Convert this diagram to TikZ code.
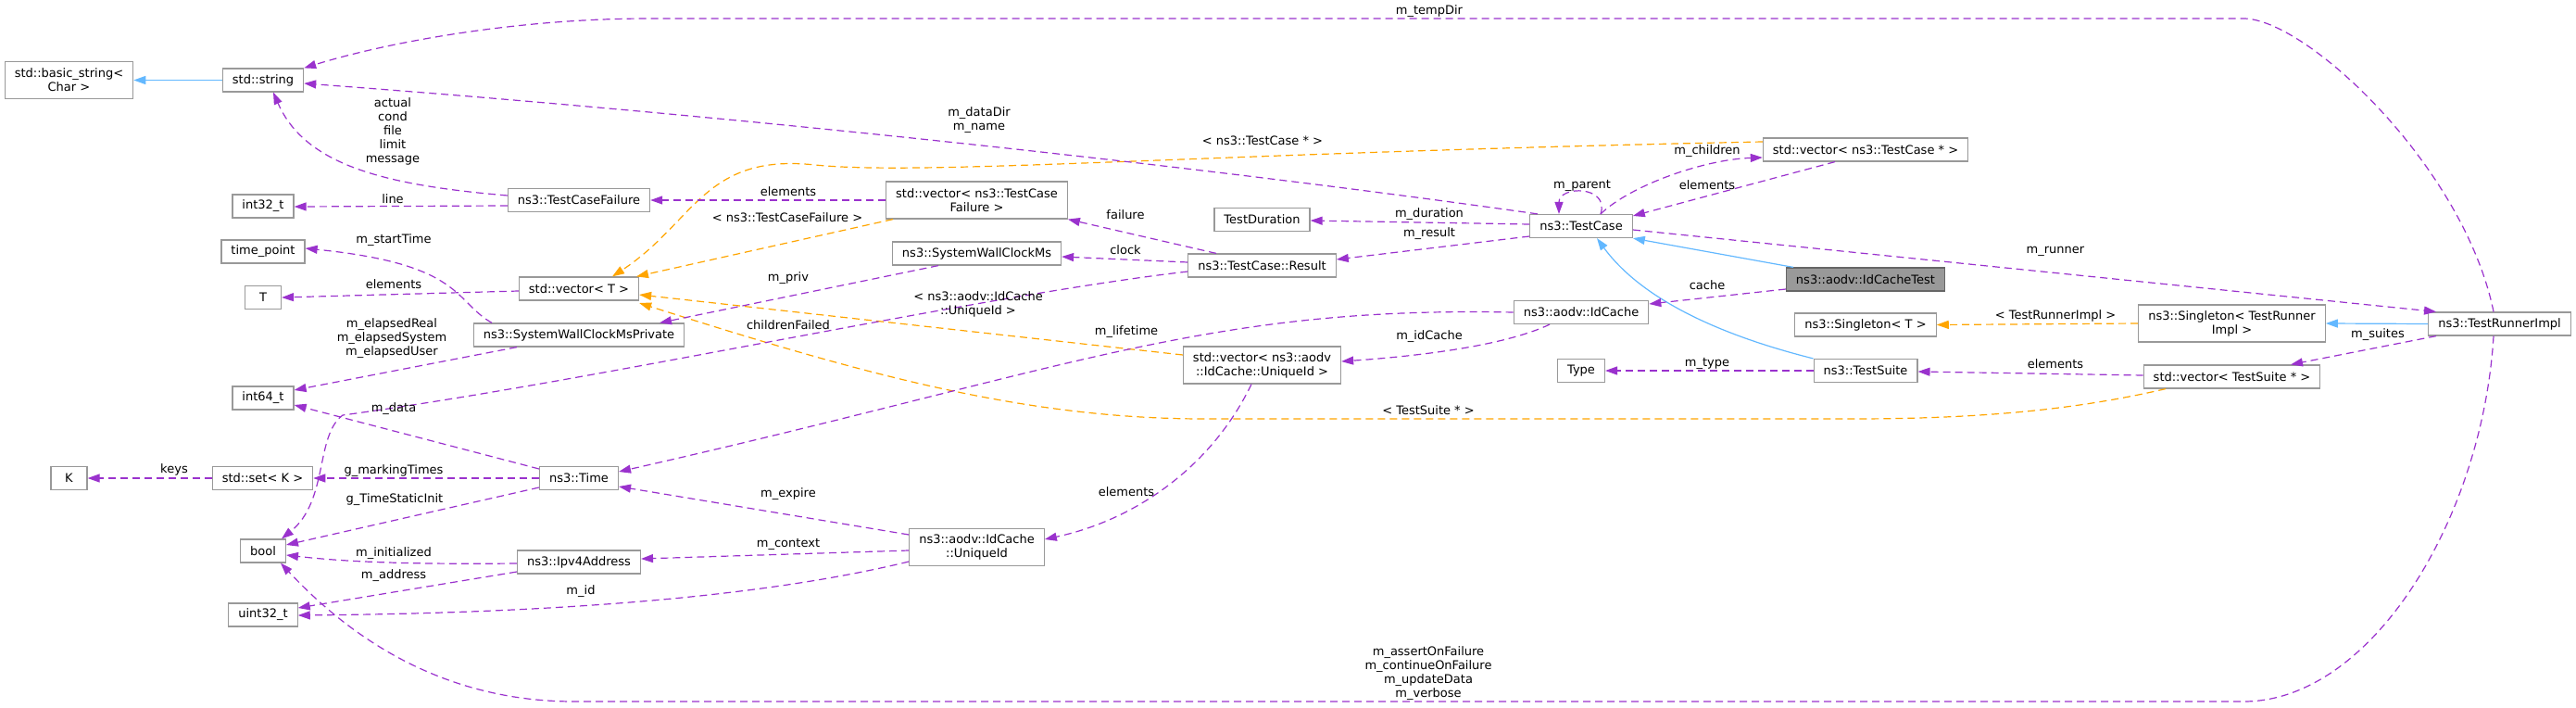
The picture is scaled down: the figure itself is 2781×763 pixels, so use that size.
\documentclass[tikz,border=0pt]{standalone}
\usepackage{fontspec}
\setmainfont{DejaVu Sans}
\usetikzlibrary{arrows.meta}
\definecolor{edgepurple}{HTML}{9A32CD}
\definecolor{tmplorange}{HTML}{FFA500}
\definecolor{inhblue}{HTML}{63B8FF}
\definecolor{boxgray}{HTML}{999999}
\definecolor{focusgray}{HTML}{999999}
\definecolor{focusborder}{HTML}{666666}
\tikzset{
  cls/.style={draw=boxgray, fill=white, line width=1.2pt, inner xsep=10.5pt, inner ysep=0pt,
    minimum height=25pt, minimum width=39pt, align=center, font=\fontsize{13}{15}\selectfont},
  twoline/.style={minimum height=40pt},
  focus/.style={fill=focusgray, draw=focusborder},
  lbl/.style={inner sep=0pt, align=center, font=\fontsize{13}{15}\selectfont},
  uses/.style={draw=edgepurple, line width=1.2pt, dash pattern=on 8pt off 5pt,
    -{Triangle[length=13pt,width=9pt]}},
  tmpl/.style={uses, draw=tmplorange},
  inherit/.style={draw=inhblue, line width=1.2pt, -{Triangle[length=13pt,width=9pt]}}
}
\begin{document}
\begin{tikzpicture}[x=1pt, y=-1pt]
	\useasboundingbox (0,0) rectangle (2781,763);
	% classes
	\node[cls, twoline] (basicstr) at (74.5,86.5) {std::basic\_string<\\Char >};
	\node[cls] (string) at (284,86.5) {std::string};
	\node[cls] (int32) at (284,222.5) {int32\_t};
	\node[cls] (timepoint) at (284,271.5) {time\_point};
	\node[cls] (T) at (284,321) {T};
	\node[cls] (int64) at (284,429.5) {int64\_t};
	\node[cls] (K) at (74.5,516) {K};
	\node[cls] (setK) at (283.5,516) {std::set< K >};
	\node[cls] (bool) at (284,594.5) {bool};
	\node[cls] (uint32) at (284,663.5) {uint32\_t};
	\node[cls] (tfail) at (625,216) {ns3::TestCaseFailure};
	\node[cls] (vecT) at (625,311.5) {std::vector< T >};
	\node[cls] (wallpriv) at (625,361.5) {ns3::SystemWallClockMsPrivate};
	\node[cls] (time) at (625,516) {ns3::Time};
	\node[cls] (ipv4) at (625,606.5) {ns3::Ipv4Address};
	\node[cls, twoline] (vecfail) at (1054.5,216) {std::vector< ns3::TestCase\\Failure >};
	\node[cls] (wallms) at (1054.5,273.5) {ns3::SystemWallClockMs};
	\node[cls, twoline] (uid) at (1054.5,590.5) {ns3::aodv::IdCache\\::UniqueId};
	\node[cls] (duration) at (1362.5,237) {TestDuration};
	\node[cls] (result) at (1362.5,286.5) {ns3::TestCase::Result};
	\node[cls, twoline] (vecuid) at (1362.5,394) {std::vector< ns3::aodv\\::IdCache::UniqueId >};
	\node[cls] (testcase) at (1707,244) {ns3::TestCase};
	\node[cls] (idcache) at (1707,337) {ns3::aodv::IdCache};
	\node[cls] (type) at (1707,400) {Type};
	\node[cls] (vectc) at (2014,161.5) {std::vector< ns3::TestCase * >};
	\node[cls, focus] (idtest) at (2014,301.5) {ns3::aodv::IdCacheTest};
	\node[cls] (singT) at (2014,350.5) {ns3::Singleton< T >};
	\node[cls] (suite) at (2014,400) {ns3::TestSuite};
	\node[cls, twoline] (singR) at (2409.5,349) {ns3::Singleton< TestRunner\\Impl >};
	\node[cls] (vecsuite) at (2409.5,406.5) {std::vector< TestSuite * >};
	\node[cls] (runner) at (2698.5,349.5) {ns3::TestRunnerImpl};

	% inheritance
	\draw[inherit] (string.west) -- (basicstr.east);
	\draw[inherit] (idtest.north -| 1936,0) -- (testcase.south east);
	\draw[inherit] (suite.north west) .. controls (1850,360) and (1770,320) .. (testcase.south -| 1724,0);
	\draw[inherit] (runner.west) -- (singR.east);

	% template instances
	\draw[tmpl] (vecfail.south -| 964,0) -- (vecT.north -| 687,0);
	\draw[tmpl] (vectc.west |- 0,153) .. controls (1300,165) and (1000,190) .. (880,178)
		.. controls (760,165) and (750,240) .. (vecT.north -| 661,0);
	\draw[tmpl] (vecuid.west |- 0,383) -- (vecT.east |- 0,318);
	\draw[tmpl] (vecsuite.south -| 2338,0) .. controls (2250,440) and (2150,452) .. (2000,452)
		-- (1300,452) .. controls (1100,452) and (920,400) .. (vecT.east |- 0,327);
	\draw[tmpl] (singR.west) -- (singT.east);

	% members
	\draw[uses] (runner.north -| 2692,0) .. controls (2660,180) and (2490,20) .. (2422,20)
		-- (700,20) .. controls (560,20) and (420,45) .. (string.north east);
	\draw[uses] (testcase.north -| 1660,0) .. controls (1300,180) and (800,125) .. (string.east |- 0,90);
	\draw[uses] (tfail.west |- 0,211) .. controls (420,200) and (330,180) .. (string.south -| 295,0);
	\draw[uses] (tfail.west |- 0,222) -- (int32.east |- 0,223);
	\draw[uses] (wallpriv.north -| 531,0) .. controls (490,325) and (500,285) .. (timepoint.east |- 0,268);
	\draw[uses] (vecT.west |- 0,314) -- (T.east |- 0,321);
	\draw[uses] (wallpriv.south -| 558,0) -- (int64.east |- 0,421);
	\draw[uses] (time.west |- 0,506) -- (int64.east |- 0,437);
	\draw[uses] (setK.west) -- (K.east);
	\draw[uses] (time.west) -- (setK.east);
	\draw[uses] (time.west |- 0,526) -- (bool.east |- 0,588);
	\draw[uses] (ipv4.west |- 0,608) .. controls (450,609) and (380,607) .. (bool.east |- 0,599);
	\draw[uses] (ipv4.west |- 0,617) -- (uint32.east |- 0,656);
	\draw[uses] (uid.west |- 0,606) .. controls (800,650) and (550,662) .. (uint32.east |- 0,664);
	\draw[uses] (runner.south -| 2692,0) .. controls (2680,560) and (2560,757) .. (2422,757)
		-- (620,757) .. controls (480,757) and (380,690) .. (bool.south -| 303,0);
	\draw[uses] (result.west |- 0,293) .. controls (1050,320) and (650,410) .. (370,448)
		.. controls (340,470) and (355,540) .. (bool.north -| 304,0);
	\draw[uses] (idcache.west |- 0,337) .. controls (1300,330) and (1150,400) .. (time.east |- 0,509);
	\draw[uses] (uid.west |- 0,577) -- (time.east |- 0,525);
	\draw[uses] (uid.west |- 0,594) -- (ipv4.east |- 0,603);
	\draw[uses] (vecuid.south -| 1351,0) .. controls (1310,500) and (1230,560) .. (uid.east |- 0,582);
	\draw[uses] (idcache.south -| 1673,0) .. controls (1620,375) and (1520,385) .. (vecuid.east |- 0,390);
	\draw[uses] (idtest.west |- 0,312) -- (idcache.east |- 0,328);
	\draw[uses] (testcase.east |- 0,248) -- (runner.north -| 2630,0);
	\draw[uses] (testcase.north -| 1728,0) .. controls (1760,200) and (1840,172) .. (vectc.west |- 0,170);
	\draw[uses] (vectc.south -| 1981,0) -- (testcase.east |- 0,233);
	\draw[uses] (testcase.north -| 1728,0) .. controls (1738,200) and (1683,200) .. (testcase.north -| 1683,0);
	\draw[uses] (testcase.west |- 0,242) -- (duration.east |- 0,238);
	\draw[uses] (testcase.west |- 0,255) -- (result.east |- 0,280);
	\draw[uses] (result.north -| 1313,0) -- (vecfail.south east);
	\draw[uses] (result.west |- 0,283) -- (wallms.east |- 0,277);
	\draw[uses] (wallms.south -| 1013,0) -- (wallpriv.north -| 712,0);
	\draw[uses] (vecfail.west) -- (tfail.east);
	\draw[uses] (runner.south -| 2630,0) -- (vecsuite.north -| 2473,0);
	\draw[uses] (vecsuite.west |- 0,405) -- (suite.east |- 0,401);
	\draw[uses] (suite.west) -- (type.east);

	% edge labels
	\node[lbl] (lTempDir) at (1543,12) {m\_tempDir};
	\node[lbl] (lDataDir) at (1057,130) {m\_dataDir\\m\_name};
	\node[lbl] (lActual) at (424,141.5) {actual\\cond\\file\\limit\\message};
	\node[lbl] (lLine) at (424,215) {line};
	\node[lbl] (lStartTime) at (425,259) {m\_startTime};
	\node[lbl] (lElemT) at (425,307) {elements};
	\node[lbl] (lElapsed) at (423,365) {m\_elapsedReal\\m\_elapsedSystem\\m\_elapsedUser};
	\node[lbl] (lData) at (425,441) {m\_data};
	\node[lbl] (lKeys) at (188,507) {keys};
	\node[lbl] (lMarking) at (425,508) {g\_markingTimes};
	\node[lbl] (lStaticInit) at (426,539) {g\_TimeStaticInit};
	\node[lbl] (lInit) at (425,597) {m\_initialized};
	\node[lbl] (lAddress) at (425,621) {m\_address};
	\node[lbl] (lId) at (627,638) {m\_id};
	\node[lbl] (lElemFail) at (851,207) {elements};
	\node[lbl] (lTmplFail) at (850,235) {< ns3::TestCaseFailure >};
	\node[lbl] (lPriv) at (851,300) {m\_priv};
	\node[lbl] (lTmplUid) at (1056,328) {< ns3::aodv::IdCache\\::UniqueId >};
	\node[lbl] (lChildFail) at (851,351) {childrenFailed};
	\node[lbl] (lExpire) at (851,533) {m\_expire};
	\node[lbl] (lContext) at (851,587) {m\_context};
	\node[lbl] (lTmplCase) at (1363,152) {< ns3::TestCase * >};
	\node[lbl] (lFailure) at (1215,232) {failure};
	\node[lbl] (lClock) at (1215,270) {clock};
	\node[lbl] (lDuration) at (1543,231) {m\_duration};
	\node[lbl] (lResult) at (1543,252) {m\_result};
	\node[lbl] (lLifetime) at (1216,358) {m\_lifetime};
	\node[lbl] (lIdCache) at (1543,363) {m\_idCache};
	\node[lbl] (lElemUid) at (1216,531) {elements};
	\node[lbl] (lTmplSuite) at (1542,443) {< TestSuite * >};
	\node[lbl] (lFlags) at (1542,727) {m\_assertOnFailure\\m\_continueOnFailure\\m\_updateData\\m\_verbose};
	\node[lbl] (lChildren) at (1843,163) {m\_children};
	\node[lbl] (lElemCase) at (1843,200) {elements};
	\node[lbl] (lParent) at (1708,200) {m\_parent};
	\node[lbl] (lCache) at (1843,308) {cache};
	\node[lbl] (lType) at (1843,392) {m\_type};
	\node[lbl] (lRunner) at (2219,271) {m\_runner};
	\node[lbl] (lTmplRunner) at (2219,341) {< TestRunnerImpl >};
	\node[lbl] (lElemSuite) at (2219,393) {elements};
	\node[lbl] (lSuites) at (2567,361) {m\_suites};
\end{tikzpicture}
\end{document}
